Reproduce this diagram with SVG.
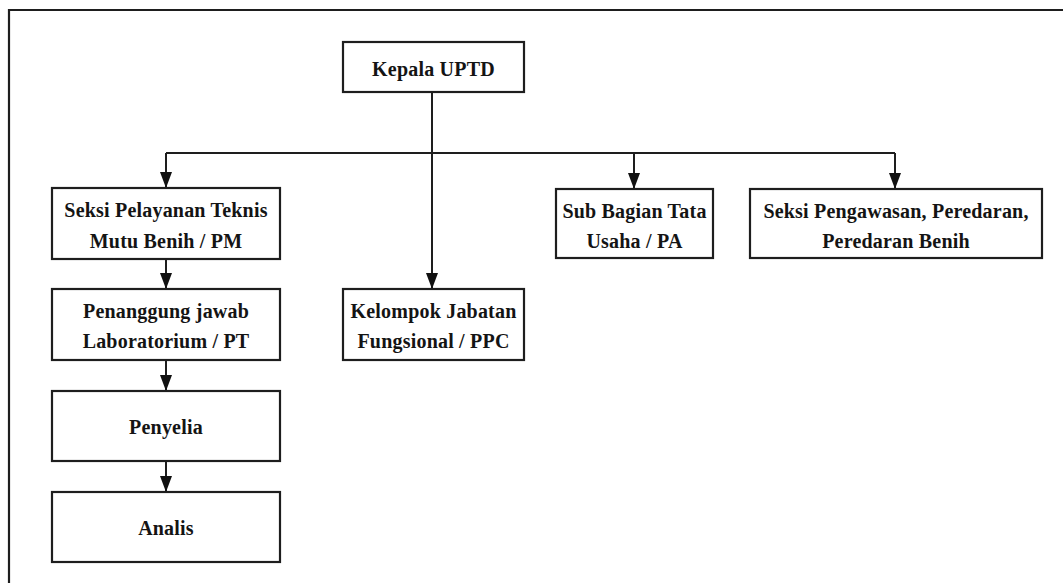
<svg xmlns="http://www.w3.org/2000/svg" width="1063" height="583" viewBox="0 0 1063 583">
  <style>
    .box { fill: #ffffff; stroke: #1e1e1e; stroke-width: 2.2; }
    .lbl { font-family: "Liberation Serif", "Times New Roman", serif; font-weight: bold; font-size: 20px; fill: #141414; text-anchor: middle; letter-spacing: 0.2px; }
    .wire { fill: none; stroke: #1e1e1e; stroke-width: 2; }
  </style>
  <defs>
    <marker id="arrow" markerUnits="userSpaceOnUse" markerWidth="16" markerHeight="12" viewBox="0 0 16 12" refX="16" refY="6" orient="auto">
      <path d="M0,0 L16,6 L0,12 Z" fill="#111111"/>
    </marker>
  </defs>

  <rect width="1063" height="583" fill="#ffffff"/>

  <!-- outer frame: left and top edges only -->
  <path d="M9,583 V10 H1063" fill="none" stroke="#1e1e1e" stroke-width="2.2"/>

  <!-- connectors -->
  <g id="connectors">
    <path class="wire" d="M432,92 V153"/>
    <path class="wire" d="M166,153 H895"/>
    <line class="wire" x1="166" y1="153" x2="166" y2="188" marker-end="url(#arrow)"/>
    <line class="wire" x1="432" y1="153" x2="432" y2="289" marker-end="url(#arrow)"/>
    <line class="wire" x1="634" y1="153" x2="634" y2="189" marker-end="url(#arrow)"/>
    <line class="wire" x1="895" y1="153" x2="895" y2="189" marker-end="url(#arrow)"/>
    <line class="wire" x1="166" y1="259" x2="166" y2="289" marker-end="url(#arrow)"/>
    <line class="wire" x1="166" y1="360" x2="166" y2="391" marker-end="url(#arrow)"/>
    <line class="wire" x1="166" y1="461" x2="166" y2="492" marker-end="url(#arrow)"/>
  </g>

  <g id="kepala-uptd">
    <rect class="box" x="343" y="42" width="181" height="50"/>
    <text class="lbl" x="433.5" y="76">Kepala UPTD</text>
  </g>

  <g id="seksi-pelayanan">
    <rect class="box" x="52" y="188" width="228" height="71"/>
    <text class="lbl" x="166" y="217">Seksi Pelayanan Teknis</text>
    <text class="lbl" x="166" y="248">Mutu Benih / PM</text>
  </g>

  <g id="penanggung-jawab">
    <rect class="box" x="52" y="289" width="228" height="71"/>
    <text class="lbl" x="166" y="318">Penanggung jawab</text>
    <text class="lbl" x="166" y="348">Laboratorium / PT</text>
  </g>

  <g id="penyelia">
    <rect class="box" x="52" y="391" width="228" height="70"/>
    <text class="lbl" x="166" y="434">Penyelia</text>
  </g>

  <g id="analis">
    <rect class="box" x="52" y="492" width="228" height="70"/>
    <text class="lbl" x="166" y="535">Analis</text>
  </g>

  <g id="kelompok-jabatan">
    <rect class="box" x="343" y="289" width="181" height="71"/>
    <text class="lbl" x="433.5" y="318">Kelompok Jabatan</text>
    <text class="lbl" x="433.5" y="348">Fungsional / PPC</text>
  </g>

  <g id="sub-bagian">
    <rect class="box" x="556" y="189" width="157" height="69"/>
    <text class="lbl" x="634.5" y="218">Sub Bagian Tata</text>
    <text class="lbl" x="634.5" y="248">Usaha / PA</text>
  </g>

  <g id="seksi-pengawasan">
    <rect class="box" x="750" y="189" width="292" height="69"/>
    <text class="lbl" x="896" y="218">Seksi Pengawasan, Peredaran,</text>
    <text class="lbl" x="896" y="248">Peredaran Benih</text>
  </g>
</svg>
